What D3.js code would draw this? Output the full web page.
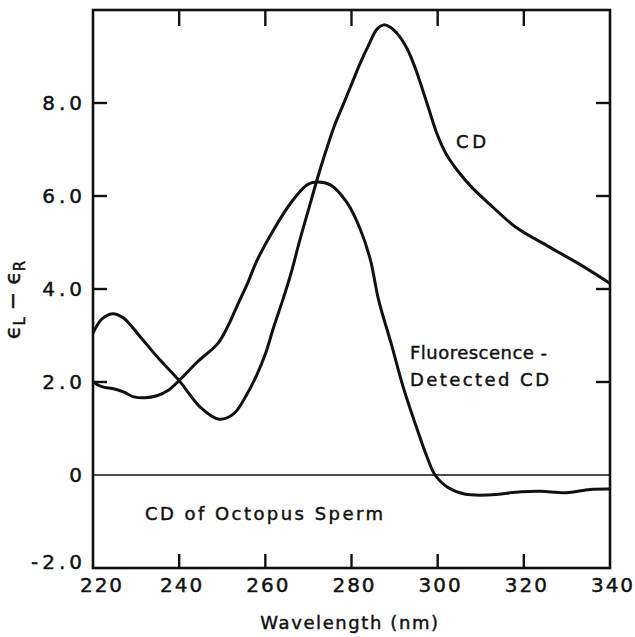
<!DOCTYPE html>
<html>
<head>
  <meta charset="utf-8">
  <title>CD of Octopus Sperm</title>
  <script src="https://d3js.org/d3.v7.min.js"></script>
  <style>
    body { margin: 0; background: #fff; }
    text { font-family: "DejaVu Sans", sans-serif; fill: #111; stroke: #111; stroke-width: 0.45px; }
    .frame { fill: none; stroke: #111; stroke-width: 2.6px; }
    .tick { stroke: #111; stroke-width: 2.4px; }
    .zero { stroke: #111; stroke-width: 1.6px; }
    .curve { fill: none; stroke: #111; stroke-width: 3px; stroke-linejoin: round; }
  </style>
</head>
<body>
  <svg width="635" height="637"></svg>
  <script>
    // ordinary CD (peak near 287 nm)
    const cdWavelength = [220, 222, 224.5, 227, 231, 235, 240, 245, 249.3, 252.7, 255.8, 258, 260, 262, 264, 266, 268, 270, 272, 274, 276, 278, 280, 282, 284, 286, 287.5, 289, 291, 293, 295, 297.5, 300, 302, 305, 308, 312, 318, 326, 333, 340];
    const cdValue      = [3.05, 3.35, 3.47, 3.38, 2.97, 2.53, 2.03, 1.45, 1.2, 1.32, 1.75, 2.15, 2.6, 3.2, 3.75, 4.35, 5.05, 5.7, 6.35, 6.95, 7.5, 7.95, 8.4, 8.85, 9.25, 9.6, 9.68, 9.63, 9.45, 9.15, 8.7, 8.0, 7.3, 6.9, 6.5, 6.18, 5.83, 5.34, 4.9, 4.53, 4.12];

    // fluorescence-detected CD (peak near 272 nm)
    const fdcdWavelength = [220, 222, 225, 227.2, 229.5, 232, 235, 237.3, 240, 244.2, 248.9, 251.2, 253.5, 256, 258.1, 261.9, 265.9, 269.7, 271.7, 275.1, 279, 282.1, 284.4, 286.3, 289.2, 292, 294.8, 297.6, 299.4, 302.4, 306.2, 311.8, 319.4, 324, 329.7, 335.4, 340];
    const fdcdValue      = [2.0, 1.9, 1.85, 1.78, 1.68, 1.66, 1.71, 1.81, 2.03, 2.43, 2.82, 3.18, 3.65, 4.15, 4.62, 5.27, 5.85, 6.24, 6.3, 6.24, 5.85, 5.27, 4.62, 3.76, 2.83, 1.89, 1.1, 0.37, 0.0, -0.27, -0.41, -0.43, -0.36, -0.35, -0.38, -0.31, -0.3];

    const xTicks = [220, 240, 260, 280, 300, 320, 340];
    const yTicks = [-2, 0, 2, 4, 6, 8];
    const yTickLabels = ["-2.0", "0", "2.0", "4.0", "6.0", "8.0"];

    const svg = d3.select("svg");
    const plotL = 93, plotR = 610, plotT = 10, plotB = 568;

    const x = d3.scaleLinear().domain([220, 340]).range([plotL, plotR]);
    const y = d3.scaleLinear().domain([-2, 10]).range([plotB, plotT]);

    // frame
    svg.append("rect").attr("class", "frame")
      .attr("x", plotL).attr("y", plotT)
      .attr("width", plotR - plotL).attr("height", plotB - plotT);

    // zero line
    svg.append("line").attr("class", "zero")
      .attr("x1", plotL).attr("x2", plotR)
      .attr("y1", y(0)).attr("y2", y(0));

    // inner ticks on bottom and top
    const inner = xTicks.slice(1, -1);
    svg.selectAll(".xb").data(inner).enter().append("line")
      .attr("class", "tick")
      .attr("x1", d => x(d)).attr("x2", d => x(d))
      .attr("y1", plotB).attr("y2", plotB - 14);
    svg.selectAll(".xt").data(inner).enter().append("line")
      .attr("class", "tick")
      .attr("x1", d => x(d)).attr("x2", d => x(d))
      .attr("y1", plotT).attr("y2", plotT + 16);

    // inner ticks on left and right
    const yInner = yTicks.filter(d => d > 0);
    svg.selectAll(".yl").data(yInner).enter().append("line")
      .attr("class", "tick")
      .attr("x1", plotL).attr("x2", plotL + 14)
      .attr("y1", d => y(d)).attr("y2", d => y(d));
    svg.selectAll(".yr").data(yInner).enter().append("line")
      .attr("class", "tick")
      .attr("x1", plotR).attr("x2", plotR - 14)
      .attr("y1", d => y(d)).attr("y2", d => y(d));

    // tick labels
    svg.selectAll(".xl").data(xTicks).enter().append("text")
      .attr("x", d => x(d) + (d === 220 ? 9 : 3))
      .attr("y", 585)
      .attr("dy", "0.36em")
      .attr("text-anchor", "middle")
      .style("font-size", "20px")
      .style("letter-spacing", "2px")
      .text(d => d);

    svg.selectAll(".yl2").data(yTicks).enter().append("text")
      .attr("x", 86)
      .attr("y", d => y(d) - (d === -2 ? 6 : 0))
      .attr("dy", "0.36em")
      .attr("text-anchor", "end")
      .style("font-size", "20px")
      .style("letter-spacing", "4px")
      .text((d, i) => yTickLabels[i]);

    // curves
    const line = d3.line()
      .x(d => x(d[0]))
      .y(d => y(d[1]))
      .curve(d3.curveCatmullRom.alpha(0.5));

    svg.append("path").attr("class", "curve")
      .attr("d", line(d3.zip(cdWavelength, cdValue)));
    svg.append("path").attr("class", "curve")
      .attr("d", line(d3.zip(fdcdWavelength, fdcdValue)));

    // annotations
    function label(txt, px, py, len) {
      svg.append("text")
        .attr("x", px).attr("y", py)
        .attr("dy", "0.36em")
        .attr("textLength", len)
        .attr("lengthAdjust", "spacing")
        .style("font-size", "18px")
        .text(txt);
    }
    label("CD", 456, 142, 30);
    label("Fluorescence -", 410, 353, 137);
    label("Detected   CD", 410, 380, 139);
    label("CD  of  Octopus  Sperm", 145, 514, 238);

    // axis titles
    svg.append("text")
      .attr("x", 350).attr("y", 623)
      .attr("dy", "0.36em")
      .attr("text-anchor", "middle")
      .style("font-size", "18px")
      .style("letter-spacing", "1.6px")
      .text("Wavelength (nm)");

    const yt = svg.append("text")
      .attr("transform", "translate(20,300) rotate(-90)")
      .attr("text-anchor", "middle")
      .style("font-size", "22px");
    yt.append("tspan").text("ϵ");
    yt.append("tspan").attr("dy", 5).style("font-size", "15px").text("L");
    yt.append("tspan").attr("dy", -5).text(" − ϵ");
    yt.append("tspan").attr("dy", 5).style("font-size", "15px").text("R");
  </script>
</body>
</html>
